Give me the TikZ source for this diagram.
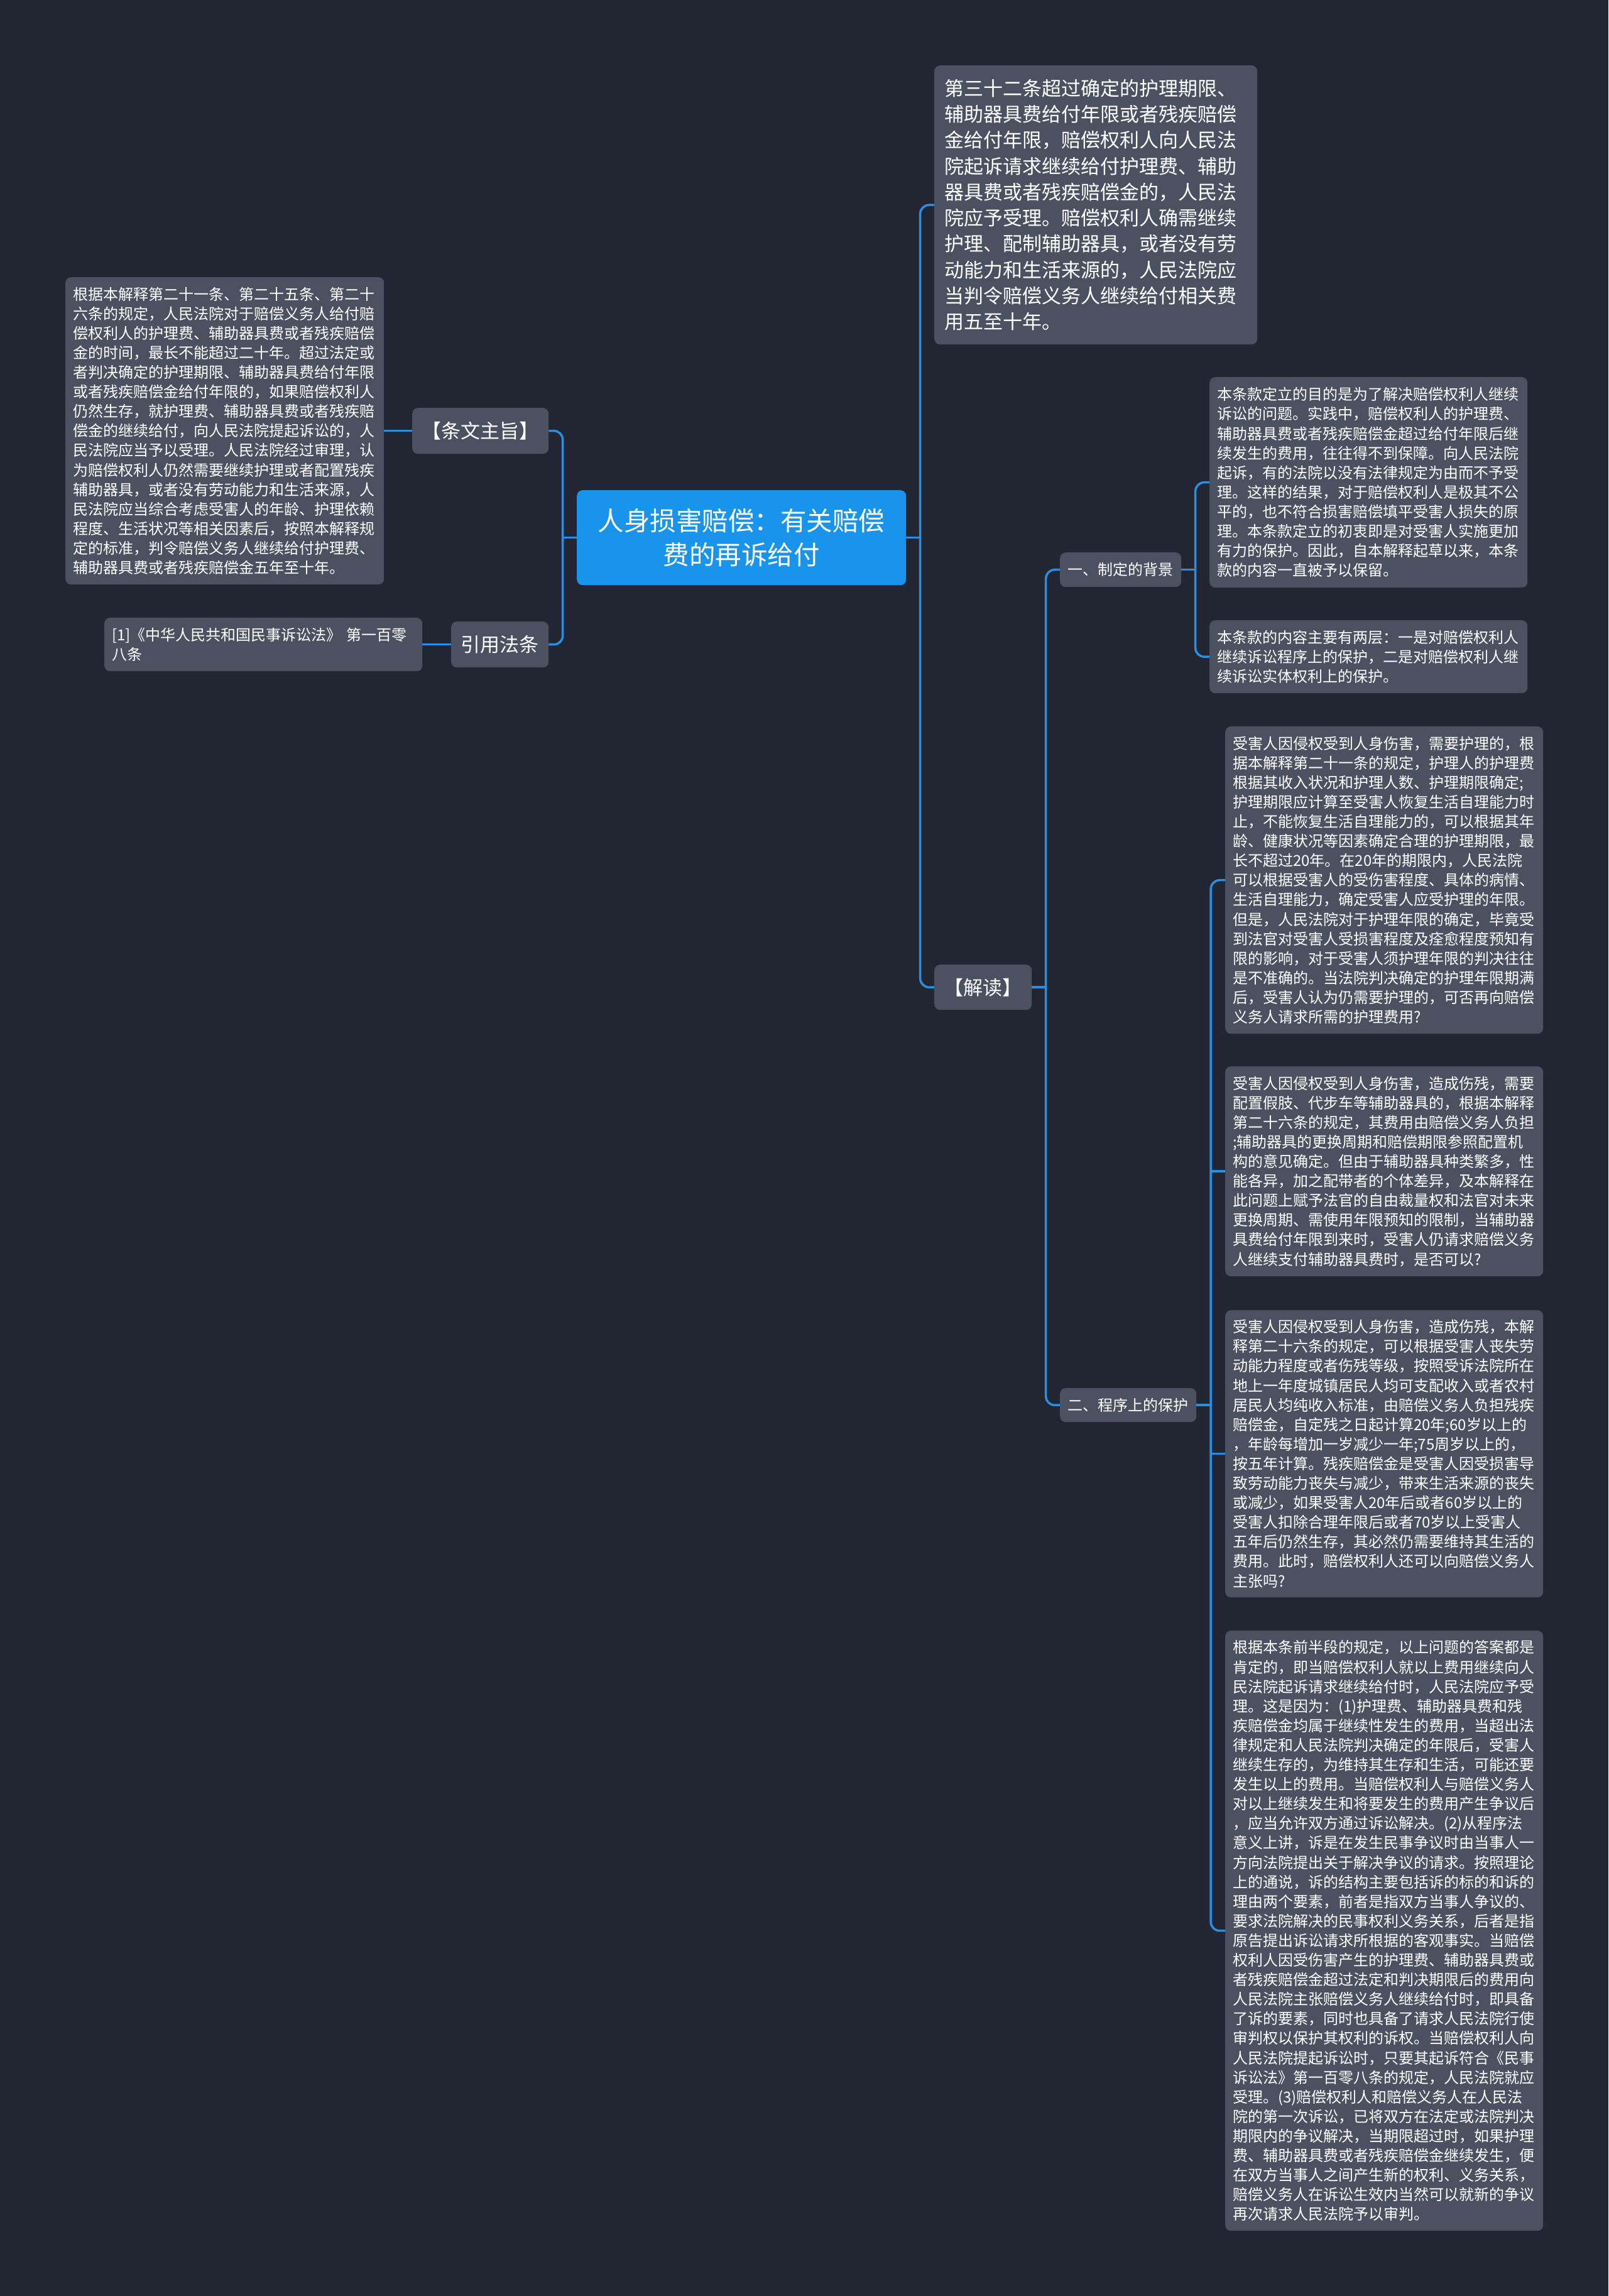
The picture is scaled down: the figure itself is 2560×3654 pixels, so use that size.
\documentclass[tikz,border=0pt]{standalone}
\usepackage{fontspec}
\setmainfont{Noto Sans CJK SC}
\usetikzlibrary{calc}
\definecolor{bgc}{RGB}{34,38,50}
\definecolor{nodeg}{RGB}{75,81,96}
\definecolor{rootb}{RGB}{24,148,237}
\definecolor{linec}{RGB}{38,144,228}
\begin{document}
\begin{tikzpicture}[x=1pt,y=-1pt,
  box/.style={fill=nodeg, rounded corners=9pt, anchor=north west, text=white, inner ysep=0pt},
  para/.style={box, align=left, inner xsep=12pt, font=\fontsize{24pt}{31.1pt}\selectfont},
  lab/.style={box, align=center, inner xsep=0pt, font=\fontsize{31pt}{36pt}\selectfont},
  sublab/.style={lab, font=\fontsize{24pt}{30pt}\selectfont},
  conn/.style={draw=linec, line width=3.5pt, rounded corners=14pt},
]
\fill[bgc] (0,0) rectangle (2560,3654);
\useasboundingbox (0,0) rectangle (2560,3654);

% root
\node[box, fill=rootb, align=center, inner xsep=0pt, minimum width=524pt, minimum height=151pt,
  font=\fontsize{41.5pt}{54pt}\selectfont] (root) at (918,780) {人身损害赔偿：有关赔偿\\费的再诉给付};

% left side
\node[lab, minimum width=217pt, minimum height=73pt] (zhuzhi) at (656,649) {【条文主旨】};
\node[lab, minimum width=155pt, minimum height=73pt] (yinyong) at (718,989) {引用法条};
\node[para, text width=483pt, minimum height=489pt] (leftTxt) at (104,441) {根据本解释第二十一条、第二十五条、第二十\\六条的规定，人民法院对于赔偿义务人给付赔\\偿权利人的护理费、辅助器具费或者残疾赔偿\\金的时间，最长不能超过二十年。超过法定或\\者判决确定的护理期限、辅助器具费给付年限\\或者残疾赔偿金给付年限的，如果赔偿权利人\\仍然生存，就护理费、辅助器具费或者残疾赔\\偿金的继续给付，向人民法院提起诉讼的，人\\民法院应当予以受理。人民法院经过审理，认\\为赔偿权利人仍然需要继续护理或者配置残疾\\辅助器具，或者没有劳动能力和生活来源，人\\民法院应当综合考虑受害人的年龄、护理依赖\\程度、生活状况等相关因素后，按照本解释规\\定的标准，判令赔偿义务人继续给付护理费、\\辅助器具费或者残疾赔偿金五年至十年。};
\node[para, text width=482pt, minimum height=85pt] (cite) at (166,983) {[1]《中华人民共和国民事诉讼法》 第一百零\\八条};

% right side
\node[para, inner xsep=16pt, text width=482pt, minimum height=444pt,
  font=\fontsize{31pt}{41.3pt}\selectfont] (topTxt) at (1487,104) {第三十二条超过确定的护理期限、\\辅助器具费给付年限或者残疾赔偿\\金给付年限，赔偿权利人向人民法\\院起诉请求继续给付护理费、辅助\\器具费或者残疾赔偿金的，人民法\\院应予受理。赔偿权利人确需继续\\护理、配制辅助器具，或者没有劳\\动能力和生活来源的，人民法院应\\当判令赔偿义务人继续给付相关费\\用五至十年。};
\node[lab, minimum width=155pt, minimum height=72pt] (jiedu) at (1487,1535) {【解读】};
\node[sublab, minimum width=193pt, minimum height=55pt] (bj) at (1687,879) {一、制定的背景};
\node[para, text width=482pt, minimum height=335pt] (bg1) at (1925,600) {本条款定立的目的是为了解决赔偿权利人继续\\诉讼的问题。实践中，赔偿权利人的护理费、\\辅助器具费或者残疾赔偿金超过给付年限后继\\续发生的费用，往往得不到保障。向人民法院\\起诉，有的法院以没有法律规定为由而不予受\\理。这样的结果，对于赔偿权利人是极其不公\\平的，也不符合损害赔偿填平受害人损失的原\\理。本条款定立的初衷即是对受害人实施更加\\有力的保护。因此，自本解释起草以来，本条\\款的内容一直被予以保留。};
\node[para, text width=482pt, minimum height=116pt] (bg2) at (1925,987) {本条款的内容主要有两层：一是对赔偿权利人\\继续诉讼程序上的保护，二是对赔偿权利人继\\续诉讼实体权利上的保护。};
\node[sublab, minimum width=217pt, minimum height=54pt] (cx) at (1687,2209) {二、程序上的保护};
\node[para, text width=482pt, minimum height=489pt] (pa) at (1950,1156) {受害人因侵权受到人身伤害，需要护理的，根\\据本解释第二十一条的规定，护理人的护理费\\根据其收入状况和护理人数、护理期限确定;\\护理期限应计算至受害人恢复生活自理能力时\\止，不能恢复生活自理能力的，可以根据其年\\龄、健康状况等因素确定合理的护理期限，最\\长不超过20年。在20年的期限内，人民法院\\可以根据受害人的受伤害程度、具体的病情、\\生活自理能力，确定受害人应受护理的年限。\\但是，人民法院对于护理年限的确定，毕竟受\\到法官对受害人受损害程度及痊愈程度预知有\\限的影响，对于受害人须护理年限的判决往往\\是不准确的。当法院判决确定的护理年限期满\\后，受害人认为仍需要护理的，可否再向赔偿\\义务人请求所需的护理费用?};
\node[para, text width=482pt, minimum height=334pt] (pb) at (1950,1697) {受害人因侵权受到人身伤害，造成伤残，需要\\配置假肢、代步车等辅助器具的，根据本解释\\第二十六条的规定，其费用由赔偿义务人负担\\;辅助器具的更换周期和赔偿期限参照配置机\\构的意见确定。但由于辅助器具种类繁多，性\\能各异，加之配带者的个体差异，及本解释在\\此问题上赋予法官的自由裁量权和法官对未来\\更换周期、需使用年限预知的限制，当辅助器\\具费给付年限到来时，受害人仍请求赔偿义务\\人继续支付辅助器具费时，是否可以?};
\node[para, text width=482pt, minimum height=457pt] (pc) at (1950,2085) {受害人因侵权受到人身伤害，造成伤残，本解\\释第二十六条的规定，可以根据受害人丧失劳\\动能力程度或者伤残等级，按照受诉法院所在\\地上一年度城镇居民人均可支配收入或者农村\\居民人均纯收入标准，由赔偿义务人负担残疾\\赔偿金，自定残之日起计算20年;60岁以上的\\，年龄每增加一岁减少一年;75周岁以上的，\\按五年计算。残疾赔偿金是受害人因受损害导\\致劳动能力丧失与减少，带来生活来源的丧失\\或减少，如果受害人20年后或者60岁以上的\\受害人扣除合理年限后或者70岁以上受害人\\五年后仍然生存，其必然仍需要维持其生活的\\费用。此时，赔偿权利人还可以向赔偿义务人\\主张吗?};
\node[para, text width=482pt, minimum height=955pt] (pd) at (1950,2595) {根据本条前半段的规定，以上问题的答案都是\\肯定的，即当赔偿权利人就以上费用继续向人\\民法院起诉请求继续给付时，人民法院应予受\\理。这是因为：(1)护理费、辅助器具费和残\\疾赔偿金均属于继续性发生的费用，当超出法\\律规定和人民法院判决确定的年限后，受害人\\继续生存的，为维持其生存和生活，可能还要\\发生以上的费用。当赔偿权利人与赔偿义务人\\对以上继续发生和将要发生的费用产生争议后\\，应当允许双方通过诉讼解决。(2)从程序法\\意义上讲，诉是在发生民事争议时由当事人一\\方向法院提出关于解决争议的请求。按照理论\\上的通说，诉的结构主要包括诉的标的和诉的\\理由两个要素，前者是指双方当事人争议的、\\要求法院解决的民事权利义务关系，后者是指\\原告提出诉讼请求所根据的客观事实。当赔偿\\权利人因受伤害产生的护理费、辅助器具费或\\者残疾赔偿金超过法定和判决期限后的费用向\\人民法院主张赔偿义务人继续给付时，即具备\\了诉的要素，同时也具备了请求人民法院行使\\审判权以保护其权利的诉权。当赔偿权利人向\\人民法院提起诉讼时，只要其起诉符合《民事\\诉讼法》第一百零八条的规定，人民法院就应\\受理。(3)赔偿权利人和赔偿义务人在人民法\\院的第一次诉讼，已将双方在法定或法院判决\\期限内的争议解决，当期限超过时，如果护理\\费、辅助器具费或者残疾赔偿金继续发生，便\\在双方当事人之间产生新的权利、义务关系，\\赔偿义务人在诉讼生效内当然可以就新的争议\\再次请求人民法院予以审判。};

% trunk coordinates
\coordinate (t1) at ($(root.east)!0.5!(topTxt.west)$);
\coordinate (tL) at ($(zhuzhi.east)!0.5!(root.west)$);
\coordinate (t2) at ($(jiedu.east)!0.5!(bj.west)$);
\coordinate (t3) at ($(bj.east)!0.5!(bg1.west)$);
\coordinate (t4) at ($(cx.east)!0.5!(pa.west)$);

% connectors
\draw[conn] (root.east) -- (root.east -| t1);
\draw[conn] (topTxt.west) -- (topTxt.west -| t1) -- (jiedu.west -| t1) -- (jiedu.west);

\draw[conn] (root.west) -- (root.west -| tL);
\draw[conn] (zhuzhi.east) -- (zhuzhi.east -| tL) -- (yinyong.east -| tL) -- (yinyong.east);
\draw[conn] (leftTxt.east) -- (zhuzhi.west);
\draw[conn] (cite.east) -- (yinyong.west);

\draw[conn] (jiedu.east) -- (jiedu.east -| t2);
\draw[conn] (bj.west) -- (bj.west -| t2) -- (cx.west -| t2) -- (cx.west);

\draw[conn] (bj.east) -- (bj.east -| t3);
\draw[conn] (bg1.west) -- (bg1.west -| t3) -- (bg2.west -| t3) -- (bg2.west);

\draw[conn] (cx.east) -- (cx.east -| t4);
\draw[conn] (pa.west) -- (pa.west -| t4) -- (pd.west -| t4) -- (pd.west);
\draw[conn] (pb.west) -- (pb.west -| t4);
\draw[conn] (pc.west) -- (pc.west -| t4);
\end{tikzpicture}
\end{document}
